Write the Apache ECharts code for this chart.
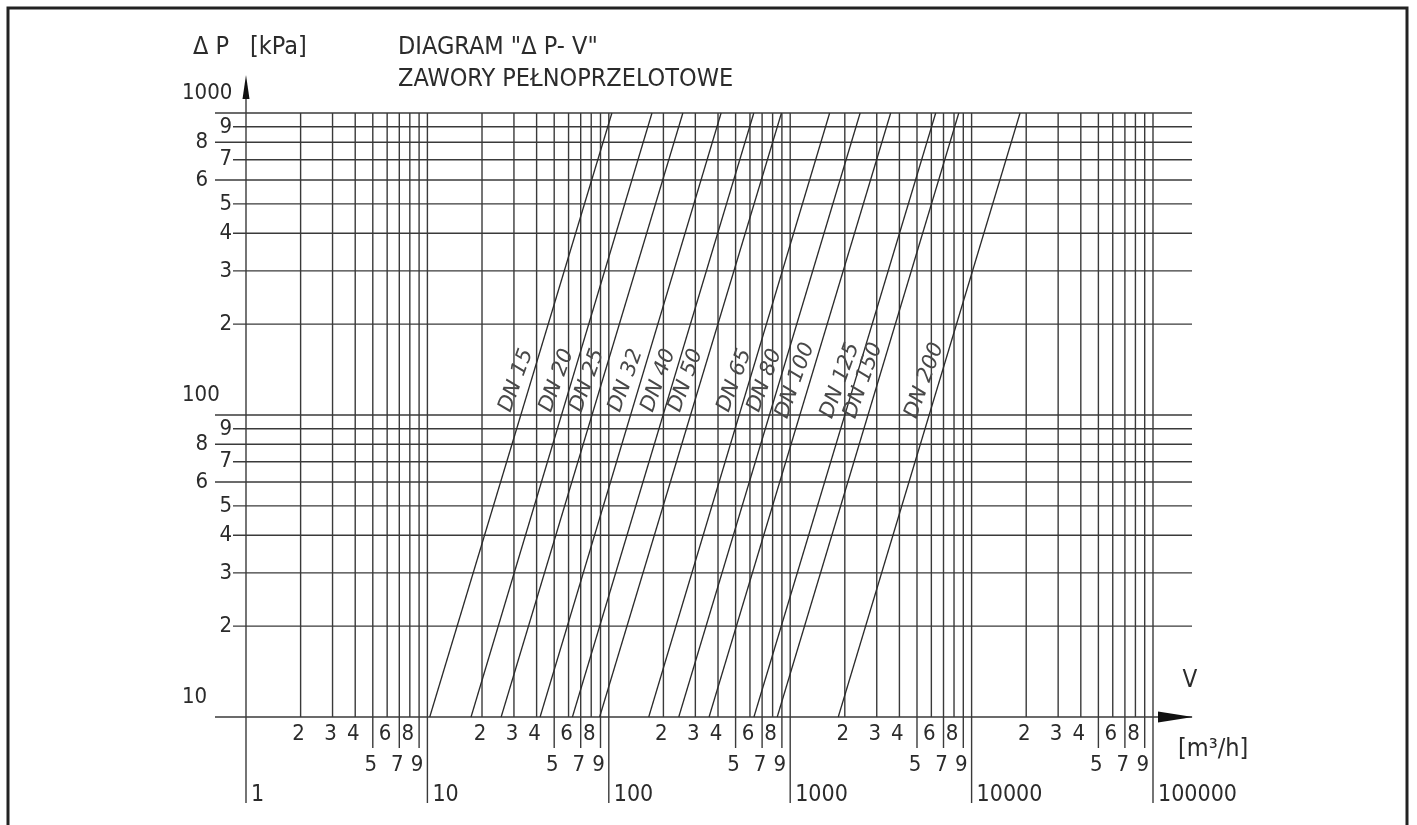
<!DOCTYPE html>
<html>
<head>
<meta charset="utf-8">
<title>DIAGRAM ΔP - V</title>
<script src="https://cdn.jsdelivr.net/npm/echarts@6/dist/echarts.min.js"></script>
<style>
  html, body { margin: 0; padding: 0; background: #ffffff; }
  #chart { width: 1417px; height: 825px; }
</style>
</head>
<body>
<div id="chart"></div>
<script>
// Flow scale V [m3/h]: decade starts and the in-decade multipliers
const flowDecades = [1, 10, 100, 1000, 10000, 100000];
const flowMultipliers = [2, 3, 4, 5, 6, 7, 8, 9];
const flowLabelsNearAxis = ['2', '3', '4', '6', '8'];
const flowLabelsLower = ['5', '7', '9'];
const flowDecadeLabels = ['1', '10', '100', '1000', '10000', '100000'];

// Pressure-drop scale ΔP [kPa]
const pressureDecades = [10, 100, 1000];
const pressureMultipliers = [2, 3, 4, 5, 6, 7, 8, 9];
const pressureLabelsFar = ['6', '8'];
const pressureDecadeLabels = ['10', '100', '1000'];

// Full-bore valves: flow at ΔP = 10 kPa and at ΔP = 1000 kPa
const valveSizes = ['DN 15', 'DN 20', 'DN 25', 'DN 32', 'DN 40', 'DN 50',
                    'DN 65', 'DN 80', 'DN 100', 'DN 125', 'DN 150', 'DN 200'];
const flowAt10kPa = [10.3, 17.4, 25.5, 41.8, 63, 89, 166, 243, 357, 631, 848, 1840];
const flowAt1000kPa = [104, 173, 256, 416, 630, 895, 1650, 2430, 3580, 6340, 8500, 18500];

const TEXT_FONT = "'Liberation Sans Narrow', 'DejaVu Sans Condensed', 'Liberation Sans', sans-serif";
const LABEL_FONT = "'DejaVu Sans', 'Liberation Sans', sans-serif";
const INK = '#2b2b2b';
const GRID_INK = '#3a3a3a';
const NUM_SIZE = 22;

const chart = echarts.init(document.getElementById('chart'), null, { renderer: 'canvas' });

const valveSeries = valveSizes.map((name, i) => ({
  name: name,
  type: 'line',
  data: [[flowAt10kPa[i], 10], [flowAt1000kPa[i], 1000]],
  symbol: 'none',
  silent: true,
  z: 5,
  lineStyle: { color: INK, width: 1.3 }
}));

chart.setOption({
  animation: false,
  backgroundColor: '#ffffff',
  grid: { left: 246, top: 113, right: 264, bottom: 108, containLabel: false },
  xAxis: {
    type: 'log', logBase: 10, min: 1, max: 100000,
    axisLine: { show: false }, axisTick: { show: false },
    axisLabel: { show: false }, splitLine: { show: false }
  },
  yAxis: {
    type: 'log', logBase: 10, min: 10, max: 1000,
    axisLine: { show: false }, axisTick: { show: false },
    axisLabel: { show: false }, splitLine: { show: false }
  },
  series: valveSeries
});

const toPx = (v, p) => chart.convertToPixel({ gridIndex: 0 }, [v, p]);
const X = v => toPx(v, 10)[0];
const Y = p => toPx(1, p)[1];

const xStart = X(1), xEnd = X(100000);
const yBase = Y(10), yTop = Y(1000);

const elements = [];
function line(x1, y1, x2, y2, width, color) {
  elements.push({
    type: 'line', silent: true, z: 2,
    shape: { x1: x1, y1: y1, x2: x2, y2: y2 },
    style: { stroke: color || GRID_INK, lineWidth: width || 1.4 }
  });
}
function text(str, x, y, opts) {
  const o = opts || {};
  elements.push({
    type: 'text', silent: true, z: 6,
    x: x, y: y, rotation: o.rotation || 0,
    style: {
      text: str,
      fill: o.color || INK,
      fontSize: o.size || 25,
      fontFamily: o.family || TEXT_FONT,
      fontStyle: o.style || 'normal',
      align: o.align || 'center',
      verticalAlign: o.valign || 'middle',
      textAlign: o.align || 'center',
      textVerticalAlign: o.valign || 'middle'
    }
  });
}

// Drawing frame
elements.push({
  type: 'rect', silent: true, z: 1,
  shape: { x: 8, y: 8, width: 1399, height: 900 },
  style: { fill: 'none', stroke: '#222', lineWidth: 3 }
});

// Horizontal pressure lines
const pressureLines = [];
pressureDecades.forEach(d => {
  pressureLines.push({ value: d, label: String(d), major: true });
  if (d < 1000) {
    pressureMultipliers.forEach(m => pressureLines.push({ value: d * m, label: String(m), major: false }));
  }
});
pressureLines.forEach(pl => {
  const y = Y(pl.value);
  const far = pl.major || pressureLabelsFar.indexOf(pl.label) >= 0;
  line(xStart - (far ? 31 : 13), y, xEnd + 39, y);
  if (pl.major) {
    text(pressureDecadeLabels[pressureDecades.indexOf(pl.value)], xStart - 64, y - 20,
         { align: 'left', size: NUM_SIZE });
  } else if (far) {
    text(pl.label, xStart - 38, y, { align: 'right', size: NUM_SIZE });
  } else {
    text(pl.label, xStart - 14, y, { align: 'right', size: NUM_SIZE });
  }
});

// Vertical flow lines
flowDecades.forEach((d, di) => {
  const x = X(d);
  line(x, di === 0 ? yTop - 30 : yTop, x, yBase + 86);
  text(flowDecadeLabels[di], x + 5, yBase + 78, { align: 'left', size: 23 });
  if (d < 100000) {
    flowMultipliers.forEach(m => {
      const xm = X(d * m);
      const lab = String(m);
      if (flowLabelsLower.indexOf(lab) >= 0) {
        line(xm, yTop, xm, yBase + 31);
        text(lab, xm - 2, yBase + 48, { size: NUM_SIZE });
      } else {
        line(xm, yTop, xm, yBase);
        text(lab, xm - 2, yBase + 17, { size: NUM_SIZE });
      }
    });
  }
});

// Axis arrows
elements.push({
  type: 'polygon', silent: true, z: 3,
  shape: { points: [[xStart, yTop - 38], [xStart - 3.5, yTop - 14], [xStart + 3.5, yTop - 14]] },
  style: { fill: '#111' }
});
elements.push({
  type: 'polygon', silent: true, z: 3,
  shape: { points: [[xEnd + 5, yBase - 5.5], [xEnd + 40, yBase], [xEnd + 5, yBase + 5.5]] },
  style: { fill: '#111' }
});

// Valve size labels along each characteristic
const labelPressure = 130;
const t = Math.log10(labelPressure / 10) / 2;
valveSizes.forEach((name, i) => {
  const lv = Math.log10(flowAt10kPa[i]) + t * (Math.log10(flowAt1000kPa[i]) - Math.log10(flowAt10kPa[i]));
  const pt = toPx(Math.pow(10, lv), labelPressure);
  text(name, pt[0] - 15, pt[1], {
    rotation: 70 * Math.PI / 180, size: 21, family: LABEL_FONT,
    style: 'italic', color: '#484848'
  });
});

// Titles and axis names
text('Δ P', xStart - 53, 47, { align: 'left' });
text('[kPa]', xStart + 4, 47, { align: 'left' });
text('DIAGRAM "Δ P- V"', 398, 47, { align: 'left' });
text('ZAWORY PEŁNOPRZELOTOWE', 398, 79, { align: 'left' });
text('V', xEnd + 37, yBase - 36, { size: 24 });
text('[m³/h]', xEnd + 25, yBase + 32, { align: 'left' });

chart.setOption({ graphic: { elements: elements } });
</script>
</body>
</html>
